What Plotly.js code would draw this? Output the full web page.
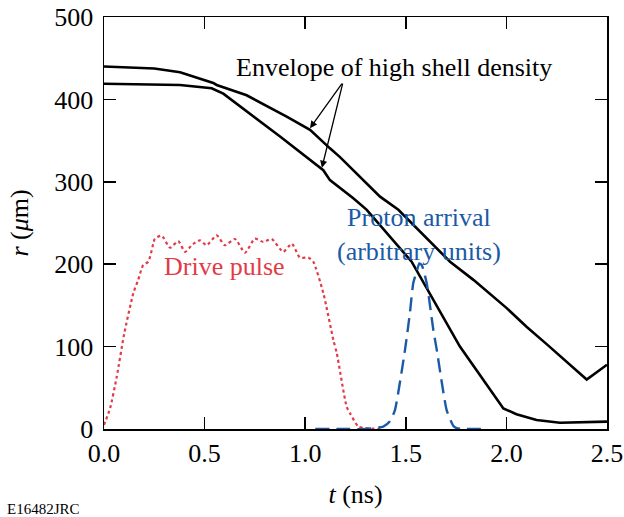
<!DOCTYPE html>
<html>
<head>
<meta charset="utf-8">
<script src="https://cdn.plot.ly/plotly-3.0.1.min.js"></script>
<style>html,body{margin:0;padding:0;background:#fff;}#chart{width:624px;height:517px;}</style>
</head>
<body>
<div id="chart"></div>
<script>
// Outer envelope of high shell density
const outerT = [0.0, 0.15, 0.25, 0.378, 0.477, 0.53, 0.543, 0.56, 0.709, 0.908, 1.024, 1.123, 1.173, 1.372, 1.463, 1.72, 1.836, 2.0, 2.1, 2.2, 2.399, 2.5];
const outerR = [440, 439, 437.5, 433, 425.6, 421, 420, 417.5, 405, 379, 363, 340.6, 330, 282, 266, 203, 181, 147, 124, 103, 60, 78];
// Inner envelope
const innerT = [0.0, 0.2, 0.378, 0.535, 0.593, 0.875, 1.09, 1.123, 1.239, 1.306, 1.529, 1.769, 1.92, 1.985, 2.05, 2.15, 2.266, 2.5];
const innerR = [419, 418, 417.5, 413.5, 407, 355, 314, 302, 280, 266, 203, 100, 47, 25, 18, 11, 7.6, 9];
// Drive pulse (dotted red)
const driveT = [0.0, 0.03, 0.063, 0.1, 0.146, 0.17, 0.195, 0.22, 0.245, 0.253, 0.287, 0.328, 0.369, 0.403, 0.44, 0.477, 0.51, 0.56, 0.601, 0.651, 0.701, 0.75, 0.792, 0.833, 0.891, 0.933, 0.974, 1.016, 1.04, 1.09, 1.14, 1.157, 1.206, 1.223, 1.264, 1.3, 1.388];
const driveR = [5, 25, 63, 115, 165, 181, 199, 203, 225, 231, 234.6, 220, 228, 215, 224, 229, 223, 235, 223, 230.6, 214, 231, 227, 230.6, 215, 225, 208, 208, 203, 165, 108, 92, 27, 19, 3, 1, 0];
// Proton arrival (dashed blue)
const protonT = [1.05, 1.2, 1.3, 1.388, 1.42, 1.446, 1.496, 1.52, 1.537, 1.554, 1.567, 1.579, 1.604, 1.637, 1.654, 1.703, 1.736, 1.753, 1.8, 1.89];
const protonR = [0, 0, 0, 3, 9, 23, 96, 140, 177, 191, 201, 199, 177, 120, 96, 23, 4, 1, 0, 0];

const xTicks = [0, 0.5, 1.0, 1.5, 2.0, 2.5];
const yTicks = [0, 100, 200, 300, 400, 500];

const FONT = "Liberation Serif";
const FS = 26;
const RED = "#e23b47";
const BLUE = "#1b5aa6";

const traces = [
  {x: outerT, y: outerR, mode: 'lines', line: {color: '#000', width: 2.6}, hoverinfo: 'skip'},
  {x: innerT, y: innerR, mode: 'lines', line: {color: '#000', width: 2.6}, hoverinfo: 'skip'},
  {x: driveT, y: driveR, mode: 'lines', line: {color: RED, width: 2.2, dash: 'dot', shape: 'spline', smoothing: 0.6}, hoverinfo: 'skip'},
  {x: protonT, y: protonR, mode: 'lines', line: {color: BLUE, width: 2.4, dash: '14px,7px', shape: 'spline', smoothing: 0.5}, hoverinfo: 'skip'}
];

const axisCommon = {
  showgrid: false, zeroline: false, showline: true, linecolor: '#000', linewidth: 1.5,
  mirror: 'ticks', ticks: 'inside', ticklen: 12, tickwidth: 1.5, tickcolor: '#000',
  automargin: false,
  tickfont: {family: FONT, size: FS, color: '#000'}
};

const layout = {
  width: 624, height: 517,
  margin: {l: 104, r: 17, t: 17, b: 88},
  paper_bgcolor: '#fff', plot_bgcolor: '#fff',
  showlegend: false,
  font: {family: FONT, color: '#000'},
  xaxis: Object.assign({}, axisCommon, {
    range: [0, 2.5], tickvals: xTicks, ticktext: xTicks.map(v => v.toFixed(1)),
    title: {text: '<i>t</i> (ns)', font: {family: FONT, size: FS, color: '#000'}, standoff: 18}
  }),
  yaxis: Object.assign({}, axisCommon, {
    range: [0, 500], tickvals: yTicks, ticktext: yTicks.map(String), ticklabelstandoff: 4,
    title: {text: '<i>r</i> (<i>μ</i>m)', font: {family: FONT, size: FS, color: '#000'}, standoff: 18}
  }),
  annotations: [
    {x: 1.441, y: 439, xref: 'x', yref: 'y', text: 'Envelope of high shell density', showarrow: false,
     font: {family: FONT, size: FS, color: '#000'}, xanchor: 'center', yanchor: 'middle'},
    {x: 1.024, y: 365, ax: 1.188, ay: 421, xref: 'x', yref: 'y', axref: 'x', ayref: 'y', text: '',
     showarrow: true, arrowhead: 2, arrowsize: 1.1, arrowwidth: 1.3, arrowcolor: '#000'},
    {x: 1.083, y: 317, ax: 1.188, ay: 421, xref: 'x', yref: 'y', axref: 'x', ayref: 'y', text: '',
     showarrow: true, arrowhead: 2, arrowsize: 1.1, arrowwidth: 1.3, arrowcolor: '#000'},
    {x: 1.566, y: 236, xref: 'x', yref: 'y', text: 'Proton arrival<br>(arbitrary units)', showarrow: false,
     font: {family: FONT, size: FS, color: BLUE}, xanchor: 'center', yanchor: 'middle', align: 'center'},
    {x: 0.6, y: 197, xref: 'x', yref: 'y', text: 'Drive pulse', showarrow: false,
     font: {family: FONT, size: FS, color: RED}, xanchor: 'center', yanchor: 'middle'},
    {x: -99/503, y: -90/412, xref: 'paper', yref: 'paper', text: 'E16482JRC', showarrow: false,
     font: {family: FONT, size: 15, color: '#000'}, xanchor: 'left', yanchor: 'bottom'}
  ]
};

Plotly.newPlot('chart', traces, layout, {staticPlot: true, displayModeBar: false});
</script>
</body>
</html>
